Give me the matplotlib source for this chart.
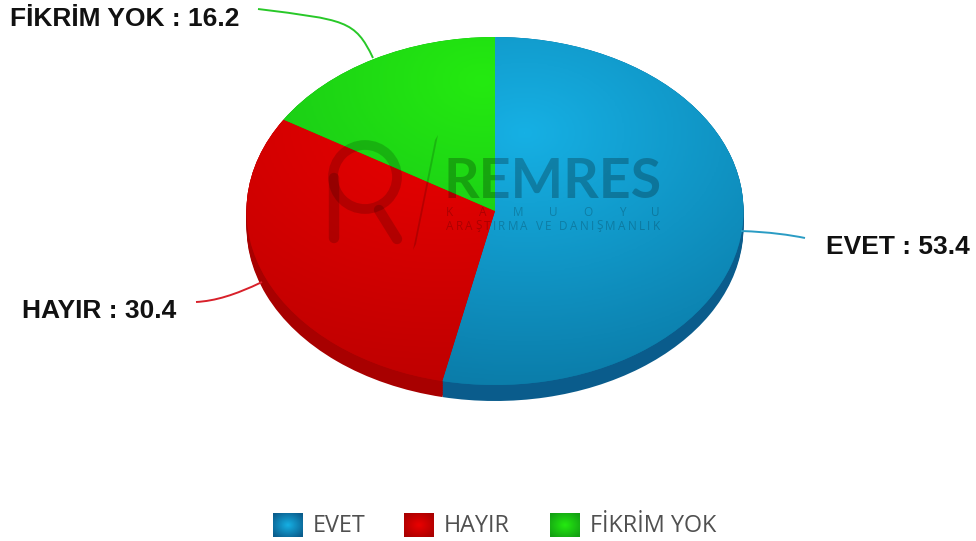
import numpy as np
import matplotlib
matplotlib.use('Agg')
import matplotlib.pyplot as plt
from matplotlib.colors import LinearSegmentedColormap
from matplotlib.font_manager import FontProperties
from matplotlib.patches import Circle, PathPatch
from matplotlib.path import Path

categories = ['EVET', 'HAYIR', 'FİKRİM YOK']
values = [53.4, 30.4, 16.2]
side_colors = ['#0a5c8c', '#a80000', '#14a014']
bright = ['#16b0e4', '#ea0000', '#24ea10']
dark = ['#0a78a4', '#bc0000', '#14b81c']
glow = [(0.12, 0.45), (-0.2, 0.5), (-0.05, 0.75)]
label_texts = ['EVET : 53.4', 'HAYIR : 30.4', 'FİKRİM YOK : 16.2']

W, H = 976, 541
cx, cy, rx, ry = 495, 211, 248.5, 174
depth = 16 / ry

fig = plt.figure(figsize=(W / 100, H / 100), dpi=100)
ax = fig.add_axes([0, 0, 1, 1])

# side of the pie, stacked copies going down
for d in np.arange(depth, 0, -0.01):
    ax.pie(values, startangle=90, counterclock=False, colors=side_colors,
           center=(0, -d), wedgeprops={'linewidth': 0})
wedges, _ = ax.pie(values, startangle=90, counterclock=False, colors=dark,
                   wedgeprops={'linewidth': 0})

# gradient on top of each slice
xx, yy = np.meshgrid(np.linspace(-1.05, 1.05, 300), np.linspace(-1.05, 1.05, 300))
for w, b, k, g in zip(wedges, bright, dark, glow):
    dist = np.clip(np.hypot(xx - g[0], yy - g[1]) / 1.6, 0, 1)
    cmap = LinearSegmentedColormap.from_list('g', [b, k])
    im = ax.imshow(dist, cmap=cmap, vmin=0, vmax=1, origin='lower', aspect='auto',
                   extent=(-1.05, 1.05, -1.05, 1.05), zorder=3)
    im.set_clip_path(w)

ax.set_aspect('auto')
ax.set_xlim(-cx / rx, (W - cx) / rx)
ax.set_ylim(-(H - cy) / ry, cy / ry)
ax.axis('off')

# overlay in pixels for logo, labels and legend
ov = fig.add_axes([0, 0, 1, 1], facecolor='none')
ov.set_xlim(0, W)
ov.set_ylim(H, 0)
ov.axis('off')


def spaced_text(s, y, x0, x1, size):
    # letter spaced line, the gap fills what is left between x0 and x1
    prop = FontProperties(family='Open Sans', size=size)
    rend = fig.canvas.get_renderer()
    sizes = [rend.get_text_width_height_descent(ch, prop, False)[0] for ch in s]
    gap = (x1 - x0 - sum(sizes)) / (len(s) - 1)
    x = x0
    for ch, sz in zip(s, sizes):
        ov.text(x, y, ch, color=(0, 0, 0, 0.2), fontproperties=prop, ha='left', va='center')
        x += sz + gap


# watermark
mark = (0, 0, 0, 0.17)
ov.add_patch(Circle((365, 177), 32, fill=False, ec=mark, lw=7))
ov.plot([334, 334], [178, 238], color=mark, lw=7.5, solid_capstyle='round')
ov.plot([379, 397], [210, 239], color=mark, lw=7.5, solid_capstyle='round')
ov.fill([438, 435, 413, 416], [135, 140, 250, 244], color=mark, lw=0)
ov.text(552.5, 182, 'REMRES', color=(0, 0, 0, 0.24), fontsize=40, family='Lato', fontweight='bold',
        ha='center', va='center')
spaced_text('KAMUOYU', 213, 446, 660, 8.5)
spaced_text('ARAŞTIRMA VE DANIŞMANLIK', 226, 446, 660, 8.5)

# leader lines
line_colors = ['#2a9cc4', '#d8202a', '#28c828']
leaders = [
    ([(741, 231), (770, 232), (790, 235), (805, 238)], [Path.MOVETO, Path.CURVE4, Path.CURVE4, Path.CURVE4]),
    ([(262, 282), (235, 295), (215, 301), (196, 302)], [Path.MOVETO, Path.CURVE4, Path.CURVE4, Path.CURVE4]),
    ([(373, 58), (355, 20), (345, 20), (258, 9)], [Path.MOVETO, Path.CURVE4, Path.CURVE4, Path.CURVE4]),
]
for (pts, codes), c in zip(leaders, line_colors):
    ov.add_patch(PathPatch(Path(pts, codes), fill=False, ec=c, lw=1.4))

label_pos = [(826, 247), (22, 311), (10, 19)]
for t, p in zip(label_texts, label_pos):
    ov.text(p[0], p[1], t, fontsize=19, fontweight='bold', family='Liberation Sans',
            color='#111111', va='center', ha='left')

# legend
swatch_x = [273, 404, 550]
gx, gy = np.meshgrid(np.linspace(-1, 1, 40), np.linspace(-1, 1, 30))
for x, name, b, s in zip(swatch_x, categories, bright, side_colors):
    cmap = LinearSegmentedColormap.from_list('l', [b, s])
    ov.imshow(np.clip(np.hypot(gx, gy) / 1.3, 0, 1), cmap=cmap, vmin=0, vmax=1, aspect='auto',
              extent=(x, x + 30, 537, 513), zorder=2)
    ov.text(x + 40, 526, name, fontsize=16.8, family='Open Sans', color='#505050', va='center', ha='left')
ov.set_xlim(0, W)
ov.set_ylim(H, 0)

fig.savefig('out.png', dpi=100)
